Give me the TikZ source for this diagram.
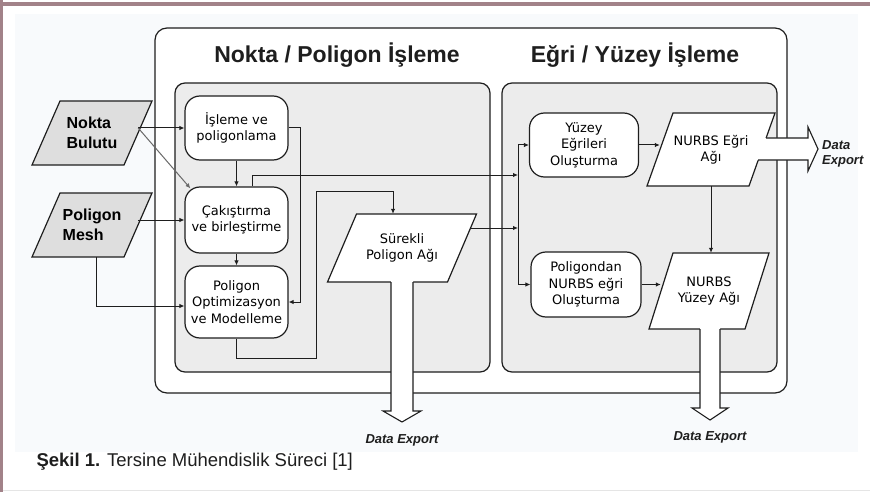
\documentclass[tikz,border=0pt]{standalone}
\usepackage{fontspec}
\setmainfont{Liberation Sans}
\newfontfamily\boxfont{DejaVu Sans}
\usetikzlibrary{arrows.meta,calc}

\definecolor{frame}{RGB}{162,130,137}
\definecolor{sheet}{RGB}{248,250,252}
\definecolor{panelgray}{RGB}{236,236,236}
\definecolor{ingray}{RGB}{222,222,222}
\definecolor{ink}{RGB}{30,30,30}
\definecolor{diag}{RGB}{105,105,105}

\tikzset{
  wire/.style={ink, line width=1pt},
  arr/.style={wire, -{Latex[length=5pt,width=4.5pt]}},
  panel/.style={draw=ink, line width=1.2pt, fill=panelgray, rounded corners=10pt},
  proc/.style={draw=ink, line width=1.2pt, fill=white, rounded corners=15pt,
    align=center, inner sep=0pt, font=\boxfont\fontsize{13}{16.5}\selectfont},
  datanode/.style={align=center, inner sep=0pt, font=\boxfont\fontsize{13}{16.5}\selectfont},
  source/.style={datanode, align=left, font=\bfseries\fontsize{16}{20}\selectfont},
  heading/.style={font=\bfseries\fontsize{23}{26}\selectfont, text=ink},
  export/.style={font=\bfseries\itshape\fontsize{13}{15.5}\selectfont, text=ink, inner sep=0pt},
  bigarrow/.style={wire, line width=1.1pt}
}

% parallelogram: fill, centre, half side, half height, half slant
\newcommand\paragram[5][white]{%
  \draw[draw=ink, line width=1.2pt, fill=#1]
    ($(#2)+(-#3+#5,-#4)$) -- ($(#2)+(#3+#5,-#4)$) --
    ($(#2)+(#3-#5,#4)$) -- ($(#2)+(-#3-#5,#4)$) -- cycle;}

\begin{document}
\begin{tikzpicture}[x=1pt,y=-1pt]
  \useasboundingbox (0,0) rectangle (870,492);
  % page
  \fill[sheet] (15,14) rectangle (858,452);
  \fill[frame] (0,2) rectangle (870,6);
  \fill[frame] (0,0) rectangle (3,492);
  \draw[gray!20] (3,490) -- (870,490);

  \draw[ink, line width=1.2pt, fill=white, rounded corners=12pt] (155,28) rectangle (787,393);
  \draw[panel] (175,83) rectangle (490,372);
  \draw[panel] (502,83) rectangle (777,372);
  \node[heading] (hleft) at (337,55) {Nokta / Poligon İşleme};
  \node[heading] (hright) at (635,55) {Eğri / Yüzey İşleme};

  % inputs
  \paragram[ingray]{92,133}{46}{32}{14}
  \node[source, minimum width=92pt, minimum height=64pt] (nokta) at (92,133) {Nokta\\Bulutu};
  \paragram[ingray]{92,225}{46}{32}{14}
  \node[source, minimum width=92pt, minimum height=64pt] (mesh) at (92,225) {Poligon\\Mesh};

  % nokta / poligon
  \node[proc, minimum width=103pt, minimum height=64pt] (isleme) at (236.5,128) {İşleme ve\\poligonlama};
  \node[proc, minimum width=103pt, minimum height=66pt] (cakis) at (236.5,220) {Çakıştırma\\ve birleştirme};
  \node[proc, minimum width=103pt, minimum height=72pt] (optim) at (236.5,302) {Poligon\\Optimizasyon\\ve Modelleme};
  \paragram{402,248}{60}{34}{14.5}
  \node[datanode, minimum width=120pt, minimum height=68pt] (surekli) at (402,248) {Sürekli\\Poligon Ağı};

  % egri / yuzey
  \node[proc, minimum width=109pt, minimum height=64pt] (yuzeyegri) at (584,145) {Yüzey\\Eğrileri\\Oluşturma};
  \node[proc, minimum width=110pt, minimum height=65pt] (poliden) at (586,284.5) {Poligondan\\NURBS eğri\\Oluşturma};
  \paragram{711,149.5}{51}{36.5}{13}
  \node[datanode, minimum width=102pt, minimum height=73pt] (nurbsegri) at (711,149.5) {NURBS Eğri\\Ağı};
  \paragram{709,291}{48}{38}{12}
  \node[datanode, minimum width=96pt, minimum height=76pt] (nurbsyuzey) at (709,291) {NURBS\\Yüzey Ağı};

  % connectors
  \draw[arr] (nokta.east |- isleme.west) -- (isleme.west);
  \draw[arr, draw=diag] (nokta.east |- isleme.west) -- ([xshift=6pt,yshift=-2pt]cakis.north west);
  \draw[arr] (mesh.east |- cakis.west) -- (cakis.west);
  \draw[arr] ([xshift=4pt]mesh.south) |- ([yshift=-4pt]optim.west);
  \draw[arr] (isleme) -- (cakis);
  \draw[arr] (cakis) -- (optim);
  \draw[arr] (isleme.east) -- ++(12,0) |- (optim.east);
  \draw[arr] (optim.south) |- ++(80,20) |- ([xshift=-9pt,yshift=22pt]surekli.north) -- ([xshift=-9pt]surekli.north);

  \coordinate (bus) at (518,175);
  \coordinate (sout) at ($(surekli.east)+(8.5,-20)$);
  \draw[arr] ([xshift=16pt]cakis.north) |- (bus);
  \draw[arr] (sout) -- (sout -| bus);
  \draw[wire] (bus |- yuzeyegri.west) -- (bus |- poliden.west);
  \draw[arr] (bus |- yuzeyegri.west) -- (yuzeyegri.west);
  \draw[arr] (bus |- poliden.west) -- (poliden.west);

  \draw[arr] (yuzeyegri.east) -- (yuzeyegri.east -| nurbsegri.west);
  \draw[arr] (poliden.east) -- (poliden.east -| nurbsyuzey.west);
  \draw[arr] (nurbsegri.south) -- (nurbsegri.south |- nurbsyuzey.north);

  % data export
  \fill[white] (391,278) -- (391,411) -- (383,411) -- (402,422) -- (421,411) -- (413,411) -- (413,278) -- cycle;
  \draw[bigarrow] (391,282) -- (391,411) -- (383,411) -- (402,422) -- (421,411) -- (413,411) -- (413,282);
  \fill[white] (700,325) -- (700,408) -- (692,408) -- (710,420) -- (728,408) -- (720,408) -- (720,325) -- cycle;
  \draw[bigarrow] (700,329) -- (700,408) -- (692,408) -- (710,420) -- (728,408) -- (720,408) -- (720,329);
  \fill[white] (752,138) -- (808,138) -- (808,127) -- (818,149) -- (808,171) -- (808,160) -- (752,160) -- cycle;
  \draw[bigarrow] (766,138) -- (808,138) -- (808,127) -- (818,149) -- (808,171) -- (808,160) -- (758,160);

  \node[export] (exp1) at (402,440) {Data Export};
  \node[export] (exp2) at (710,437) {Data Export};
  \node[export, anchor=west, align=left] (exp3) at (822,154) {Data\\Export};

  \node[anchor=west, text=ink, font=\fontsize{18.5}{21}\selectfont] (caption) at (33,462)
    {\textbf{Şekil 1.} Tersine Mühendislik Süreci [1]};
\end{tikzpicture}
\end{document}
